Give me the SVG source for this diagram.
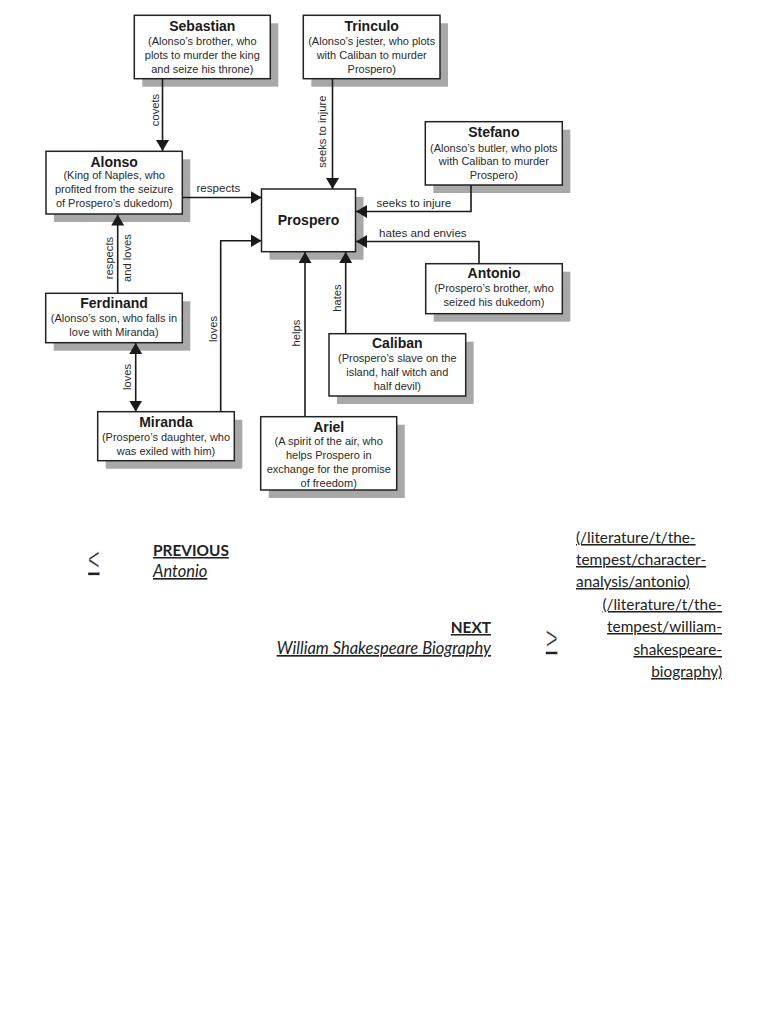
<svg xmlns="http://www.w3.org/2000/svg" width="768" height="1024" viewBox="0 0 768 1024">
<style>
.bx{fill:#fff;stroke:#222;stroke-width:1.5}
.sh{fill:#a8a8a8}
.t{font-family:"Liberation Sans",Arial,sans-serif;font-weight:bold;font-size:14px;fill:#1a1a1a;text-anchor:middle}
.d{font-family:"Liberation Sans",Arial,sans-serif;font-size:11px;fill:#2a2a2a;text-anchor:middle}
.l{font-family:"Liberation Sans",Arial,sans-serif;font-size:11.6px;fill:#2a2a2a}
.lr{font-family:"Liberation Sans",Arial,sans-serif;font-size:11.2px;fill:#2a2a2a;text-anchor:middle}
.c{fill:none;stroke:#1a1a1a;stroke-width:1.6}
.nav{font-family:Lato,"Liberation Sans",sans-serif;font-size:15.4px;fill:#222;text-decoration:underline}
.it{font-style:italic;font-size:16.5px}
.ch{font-family:"Liberation Sans",Arial,sans-serif;font-size:31px;fill:#222;stroke:#fff;stroke-width:0.55px;text-decoration:underline}
</style>
<defs>
<marker id="ah" viewBox="0 0 11 13" refX="11" refY="6.5" markerWidth="11" markerHeight="13" markerUnits="userSpaceOnUse" orient="auto-start-reverse"><path d="M0,0 L11,6.5 L0,13 z" fill="#1a1a1a"/></marker>
</defs>
<rect width="768" height="1024" fill="#fff"/>

<g id="sebastian">
<rect class="sh" x="142.3" y="23.3" width="136" height="63.4"/>
<rect class="bx" x="134.3" y="15.3" width="136" height="63.4"/>
<text class="t" x="202.3" y="30.7">Sebastian</text>
<text class="d" x="202.3" y="45">(Alonso’s brother, who</text>
<text class="d" x="202.3" y="59">plots to murder the king</text>
<text class="d" x="202.3" y="72.7">and seize his throne)</text>
</g>

<g id="trinculo">
<rect class="sh" x="311.3" y="23.3" width="136.7" height="63.4"/>
<rect class="bx" x="303.3" y="15.3" width="136.7" height="63.4"/>
<text class="t" x="371.7" y="30.7">Trinculo</text>
<text class="d" x="371.7" y="45">(Alonso’s jester, who plots</text>
<text class="d" x="371.7" y="59">with Caliban to murder</text>
<text class="d" x="371.7" y="72.7">Prospero)</text>
</g>

<g id="alonso">
<rect class="sh" x="54" y="159.3" width="136.3" height="62.7"/>
<rect class="bx" x="46" y="151.3" width="136.3" height="62.7"/>
<text class="t" x="114.2" y="166.7">Alonso</text>
<text class="d" x="114.2" y="178.7">(King of Naples, who</text>
<text class="d" x="114.2" y="192.7">profited from the seizure</text>
<text class="d" x="114.2" y="206.7">of Prospero’s dukedom)</text>
</g>

<g id="prospero">
<rect class="sh" x="269.5" y="197" width="94" height="62.7"/>
<rect class="bx" x="261.5" y="189" width="94" height="62.7"/>
<text class="t" x="308.5" y="225">Prospero</text>
</g>

<g id="stefano">
<rect class="sh" x="433.3" y="129.7" width="137" height="63.3"/>
<rect class="bx" x="425.3" y="121.7" width="137" height="63.3"/>
<text class="t" x="493.8" y="136.7">Stefano</text>
<text class="d" x="493.8" y="151.5">(Alonso’s butler, who plots</text>
<text class="d" x="493.8" y="165.3">with Caliban to murder</text>
<text class="d" x="493.8" y="179">Prospero)</text>
</g>

<g id="antonio">
<rect class="sh" x="433.7" y="271.7" width="136.6" height="50"/>
<rect class="bx" x="425.7" y="263.7" width="136.6" height="50"/>
<text class="t" x="494" y="277.5">Antonio</text>
<text class="d" x="494" y="291.7">(Prospero’s brother, who</text>
<text class="d" x="494" y="305.7">seized his dukedom)</text>
</g>

<g id="ferdinand">
<rect class="sh" x="53.7" y="301.3" width="136.6" height="49.4"/>
<rect class="bx" x="45.7" y="293.3" width="136.6" height="49.4"/>
<text class="t" x="114" y="308.3">Ferdinand</text>
<text class="d" x="114" y="322">(Alonso’s son, who falls in</text>
<text class="d" x="114" y="336">love with Miranda)</text>
</g>

<g id="miranda">
<rect class="sh" x="105.7" y="419.7" width="136.6" height="49"/>
<rect class="bx" x="97.7" y="411.7" width="136.6" height="49"/>
<text class="t" x="166" y="426.7">Miranda</text>
<text class="d" x="166" y="440.7">(Prospero’s daughter, who</text>
<text class="d" x="166" y="455">was exiled with him)</text>
</g>

<g id="caliban">
<rect class="sh" x="337" y="341.7" width="136.7" height="62.3"/>
<rect class="bx" x="329" y="333.7" width="136.7" height="62.3"/>
<text class="t" x="397.3" y="347.7">Caliban</text>
<text class="d" x="397.3" y="361.7">(Prospero’s slave on the</text>
<text class="d" x="397.3" y="375.7">island, half witch and</text>
<text class="d" x="397.3" y="389.5">half devil)</text>
</g>

<g id="ariel">
<rect class="sh" x="268.7" y="424.7" width="136" height="73.3"/>
<rect class="bx" x="260.7" y="416.7" width="136" height="73.3"/>
<text class="t" x="328.7" y="431.7">Ariel</text>
<text class="d" x="328.7" y="445.3">(A spirit of the air, who</text>
<text class="d" x="328.7" y="459.3">helps Prospero in</text>
<text class="d" x="328.7" y="473.3">exchange for the promise</text>
<text class="d" x="328.7" y="487.3">of freedom)</text>
</g>

<g id="connectors">
<path class="c" d="M162.5,79 V151" marker-end="url(#ah)"/>
<path class="c" d="M332.5,79 V189" marker-end="url(#ah)"/>
<path class="c" d="M182.5,197.5 H261.5" marker-end="url(#ah)"/>
<path class="c" d="M471,185 V211.5 H356" marker-end="url(#ah)"/>
<path class="c" d="M479,263.7 V241.5 H356" marker-end="url(#ah)"/>
<path class="c" d="M117.7,293.3 V214.5" marker-end="url(#ah)"/>
<path class="c" d="M135.7,343 V411.7" marker-start="url(#ah)" marker-end="url(#ah)"/>
<path class="c" d="M220.7,411.7 V240.7 H261.5" marker-end="url(#ah)"/>
<path class="c" d="M305,416.7 V252" marker-end="url(#ah)"/>
<path class="c" d="M345.7,333.7 V252" marker-end="url(#ah)"/>
<text class="lr" transform="translate(158.5,110) rotate(-90)">covets</text>
<text class="lr" transform="translate(325.5,131.7) rotate(-90)">seeks to injure</text>
<text class="l" x="196.5" y="191.7">respects</text>
<text class="l" x="376.5" y="207">seeks to injure</text>
<text class="l" x="379" y="236.5">hates and envies</text>
<text class="lr" transform="translate(112.5,258) rotate(-90)">respects</text>
<text class="lr" transform="translate(130.5,258) rotate(-90)">and loves</text>
<text class="lr" transform="translate(130.5,377) rotate(-90)">loves</text>
<text class="lr" transform="translate(216.5,329) rotate(-90)">loves</text>
<text class="lr" transform="translate(299.5,333) rotate(-90)">helps</text>
<text class="lr" transform="translate(341,298) rotate(-90)">hates</text>
</g>

<g id="navigation">
<text class="ch" transform="translate(88,569.8) scale(0.65,1)">&lt;</text>
<text class="nav" x="153" y="556" style="font-weight:bold">PREVIOUS</text>
<text class="nav it" x="153" y="577">Antonio</text>
<text class="nav" x="576" y="543">(/literature/t/the-</text>
<text class="nav" x="576" y="565">tempest/character-</text>
<text class="nav" x="576" y="587">analysis/antonio)</text>
<text class="nav" x="491" y="633" text-anchor="end" style="font-weight:bold">NEXT</text>
<text class="nav it" x="491" y="654" text-anchor="end">William Shakespeare Biography</text>
<text class="ch" transform="translate(545.7,649) scale(0.65,1)">&gt;</text>
<text class="nav" x="722" y="610" text-anchor="end">(/literature/t/the-</text>
<text class="nav" x="722" y="632" text-anchor="end">tempest/william-</text>
<text class="nav" x="722" y="655" text-anchor="end">shakespeare-</text>
<text class="nav" x="722" y="677" text-anchor="end">biography)</text>
</g>
</svg>
